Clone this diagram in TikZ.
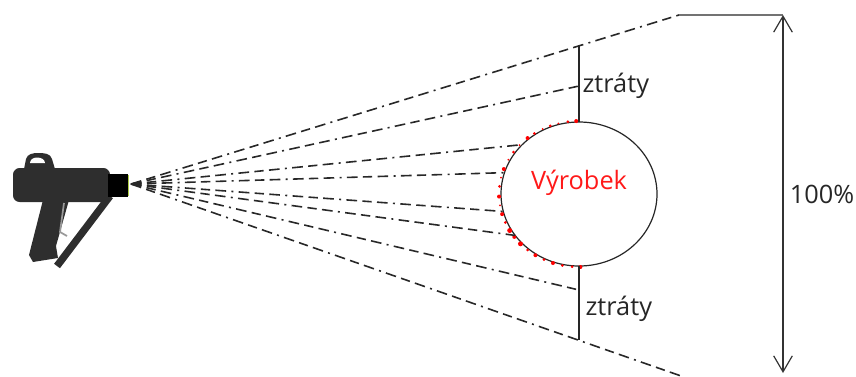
\documentclass[tikz,border=0pt]{standalone}
\usepackage{fontspec}
\setmainfont{Open Sans}
\usetikzlibrary{shapes.geometric,arrows.meta}
\definecolor{gunbody}{RGB}{46,46,46}
\definecolor{raygrey}{RGB}{40,40,40}
\definecolor{nozzlerim}{RGB}{175,205,70}
\tikzset{
  ray/.style={draw=raygrey, line width=1.2pt, dash pattern=on 8pt off 4pt on 7pt off 4pt on 8pt off 4pt on 1.5pt off 4pt},
  losstext/.style={anchor=west, inner sep=1pt, font=\fontsize{19}{22}\selectfont, text=black!85},
  lossbar/.style={draw=black!85, line width=0.9pt},
  dimline/.style={draw=black!80, line width=0.9pt, {Straight Barb[length=12pt,width=14pt]}-{Straight Barb[length=12pt,width=14pt]}},
  product/.style={ellipse, draw=black!85, line width=0.9pt, inner sep=0pt, outer sep=0pt,
    minimum width=117pt, minimum height=108pt, text=red!90, font=\fontsize{19}{22}\selectfont}
}
\newcommand{\sprayray}[2] {\draw [ray] (#1) -- (#2);}
\newcommand{\losslabel}[3] {\node at (#1) (#2) [losstext] {#3};}

\begin{document}
\begin{tikzpicture}[x=0.75pt, y=-0.75pt]
\useasboundingbox (0,0) rectangle (856,376);

% spray gun
\fill[gunbody] (24,169) -- (26,159) to[out=75,in=180] (38,153) to[out=0,in=105] (52,159) -- (55,169) -- cycle;
\fill[white] (30,163) to[out=90,in=180] (37,157.5) to[out=0,in=90] (45,163) -- cycle;
\fill[gunbody, rounded corners=5] (13,168) rectangle (110,202);
\fill[gunbody] (43,200) -- (69,200) -- (56,246) -- (58,258) -- (33,262) -- (29,255) -- cycle;
\draw[gunbody, line width=5.5pt] (110,196) -- (57,266);
\draw[black!40, line width=1.3pt] (64,203) -- (60,232) -- (67,236);
\fill[black] (108,174) rectangle (128,197);
\draw[nozzlerim, line width=0.8pt] (128.5,175) -- (128.5,196);
\coordinate (tip) at (131,184);

% target and losses
\node at (579,194) (vyrobek) [product] {\raisebox{22pt}{Výrobek}};
\foreach \a/\r in {268/2.0,262/1.5,255/1.0,249/1.5,243/1.0,236/1.5,230/2.0,222/1.0,215/1.5,
  208/1.0,200/2.0,193/1.0,186/1.5,178/2.0,171/1.0,164/2.0,157/1.5,150/2.5,144/2.0,
  137/2.5,130/1.5,123/2.0,116/1.5,109/2.0,102/1.5,95/1.5,89/2.0}
  \fill[red] ([shift={(\a:80 and 73)}]vyrobek.center) circle (\r);

\coordinate (fantop) at (679,15);
\coordinate (fanbot) at (684,377);
\coordinate (bartop) at (579,45.6);
\coordinate (barmidtop) at (579,86);
\coordinate (barmidbot) at (579,290);
\coordinate (barbot) at (579,339.8);

\sprayray {tip}{fantop}
\sprayray {tip}{barmidtop}
\sprayray {tip}{vyrobek.139}
\sprayray {tip}{vyrobek.164}
\sprayray {tip}{vyrobek.193}
\sprayray {tip}{vyrobek.213}
\sprayray {tip}{barmidbot}
\sprayray {tip}{fanbot}

\draw [lossbar] (bartop) -- (vyrobek.north);
\draw [lossbar] (vyrobek.south) -- (barbot);
\losslabel {581,86}{losstop}{ztráty}
\losslabel {584,309}{lossbot}{ztráty}

% full width of the spray
\coordinate (dimtop) at (783,15);
\coordinate (dimbot) at (783,373);
\draw [black!55, line width=1.7pt] (fantop) -- (dimtop);
\draw [dimline] (dimtop) -- (dimbot);
\node at (822,194) (total) [font=\fontsize{19}{22}\selectfont, text=black!85] {100\%};
\end{tikzpicture}
\end{document}
